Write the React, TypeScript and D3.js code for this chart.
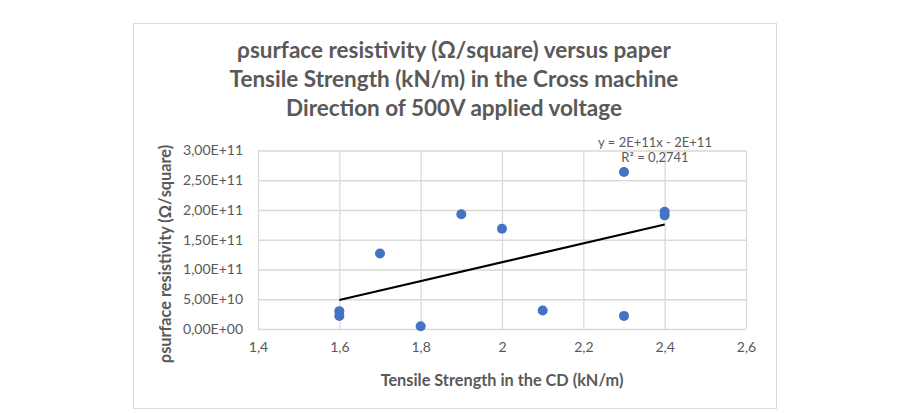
import * as d3 from "d3";
import { useEffect, useRef } from "react";

// tensile strength in CD (kN/m) and surface resistivity (Ω/square)
const strength = [1.6, 1.6, 1.7, 1.8, 1.9, 2.0, 2.1, 2.3, 2.3, 2.4, 2.4];
const resistivity = [3.0e10, 2.2e10, 1.27e11, 4.5e9, 1.93e11, 1.685e11, 3.1e10, 2.64e11, 2.2e10, 1.97e11, 1.91e11];

const xTicks = [1.4, 1.6, 1.8, 2.0, 2.2, 2.4, 2.6];
const yTicks = [0, 5e10, 1e11, 1.5e11, 2e11, 2.5e11, 3e11];

const titleLines = [
  "ρsurface resistivity (Ω/square) versus paper",
  "Tensile Strength (kN/m) in the Cross machine",
  "Direction of 500V applied voltage",
];
const trendLabels = ["y = 2E+11x - 2E+11", "R² = 0,2741"];

const fmtY = (v: number) => {
  const [m, e] = v.toExponential(2).split("e");
  const exp = Math.abs(+e).toString().padStart(2, "0");
  return `${m.replace(".", ",")}E${+e < 0 ? "-" : "+"}${exp}`;
};

export default function App() {
  const svgRef = useRef<SVGSVGElement | null>(null);

  useEffect(() => {
    if (!svgRef.current) return;
    const svg = d3.select(svgRef.current);
    svg.selectAll("*").remove();

    const width = 908;
    const height = 413;
    const font = "Lato, 'Open Sans', sans-serif";
    const grey = "#595959";

    const x = d3.scaleLinear().domain([1.4, 2.6]).range([258, 746]);
    const y = d3.scaleLinear().domain([0, 3e11]).range([329, 150.5]);

    svg.attr("width", width).attr("height", height);

    // chart frame
    svg
      .append("rect")
      .attr("x", 133.5)
      .attr("y", 23.5)
      .attr("width", 643)
      .attr("height", 385)
      .attr("fill", "#fff")
      .attr("stroke", "#d9d9d9");

    // title
    svg
      .append("text")
      .attr("x", 454)
      .attr("text-anchor", "middle")
      .attr("font-family", font)
      .attr("font-weight", "bold")
      .attr("font-size", 22.5)
      .attr("fill", grey)
      .selectAll("tspan")
      .data(titleLines)
      .join("tspan")
      .attr("x", 454)
      .attr("y", (_, i) => 58 + i * 29)
      .text((d) => d);

    // gridlines
    const xAxis = d3
      .axisBottom(x)
      .tickValues(xTicks)
      .tickSize(-(y(0) - y(3e11)))
      .tickPadding(13)
      .tickFormat((d) => String(d).replace(".", ","));
    const yAxis = d3
      .axisLeft(y)
      .tickValues(yTicks)
      .tickSize(-(x(2.6) - x(1.4)))
      .tickPadding(15)
      .tickFormat((d) => fmtY(d as number));

    const gx = svg.append("g").attr("transform", `translate(0,${y(0)})`).call(xAxis as any);
    const gy = svg.append("g").attr("transform", `translate(${x(1.4)},0)`).call(yAxis as any);

    [gx, gy].forEach((g) => {
      g.select(".domain").remove();
      g.selectAll("line").attr("stroke", "#d9d9d9").attr("stroke-width", 1.3);
      g.selectAll("text")
        .attr("fill", grey)
        .attr("font-family", font)
        .attr("font-size", 14);
    });

    // trendline (least squares)
    const n = strength.length;
    const mx = d3.mean(strength) as number;
    const my = d3.mean(resistivity) as number;
    let sxy = 0;
    let sxx = 0;
    for (let i = 0; i < n; i++) {
      sxy += (strength[i] - mx) * (resistivity[i] - my);
      sxx += (strength[i] - mx) ** 2;
    }
    const slope = sxy / sxx;
    const icpt = my - slope * mx;
    const [x0, x1] = d3.extent(strength) as [number, number];

    svg
      .append("line")
      .attr("x1", x(x0))
      .attr("y1", y(icpt + slope * x0))
      .attr("x2", x(x1))
      .attr("y2", y(icpt + slope * x1))
      .attr("stroke", "#000")
      .attr("stroke-width", 2.2);

    // points
    svg
      .append("g")
      .selectAll("circle")
      .data(strength)
      .join("circle")
      .attr("cx", (d) => x(d))
      .attr("cy", (_, i) => y(resistivity[i]))
      .attr("r", 5)
      .attr("fill", "#4472c4");

    // trendline label
    svg
      .append("text")
      .attr("font-family", font)
      .attr("font-size", 13)
      .attr("fill", grey)
      .attr("text-anchor", "middle")
      .selectAll("tspan")
      .data(trendLabels)
      .join("tspan")
      .attr("x", 655)
      .attr("y", (_, i) => 147 + i * 15)
      .text((d) => d);

    // axis titles
    svg
      .append("text")
      .attr("x", x(2))
      .attr("y", 386)
      .attr("text-anchor", "middle")
      .attr("font-family", font)
      .attr("font-weight", "bold")
      .attr("font-size", 16.3)
      .attr("fill", grey)
      .text("Tensile Strength in the CD (kN/m)");

    svg
      .append("text")
      .attr("transform", `translate(171,254) rotate(-90)`)
      .attr("text-anchor", "middle")
      .attr("font-family", font)
      .attr("font-weight", "bold")
      .attr("font-size", 16.3)
      .attr("fill", grey)
      .text("ρsurface resistivity (Ω/square)");
  }, []);

  return (
    <svg
      ref={svgRef}
      style={{ position: "absolute", left: 0, top: 0, display: "block" }}
      aria-label="Surface resistivity versus tensile strength"
    />
  );
}
